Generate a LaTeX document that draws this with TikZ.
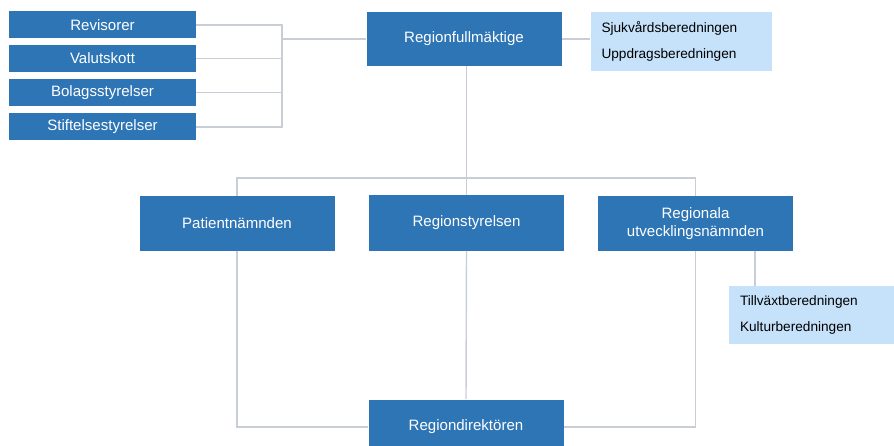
\documentclass[tikz,border=0pt]{standalone}
\usepackage{fontspec}
\setmainfont{Liberation Sans}
\newdimen\pw
\pw=0.025cm
\definecolor{boxblue}{HTML}{2E75B6}
\definecolor{boxlight}{HTML}{C5E2FA}
\definecolor{linegray}{HTML}{C9CED6}
\tikzset{bluebox/.style={fill=boxblue,text=white,inner sep=0pt,align=center,
    font=\fontsize{10.7}{13}\selectfont}}
\tikzset{lightbox/.style={fill=boxlight,text=black,inner xsep=11\pw,inner ysep=0pt,
    align=left,font=\fontsize{9.7}{18.4}\selectfont}}
\tikzset{orgline/.style={draw=linegray,line width=1pt}}

\begin{document}
\begin{tikzpicture}[x=0.025cm,y=-0.025cm]
          \useasboundingbox (0,0) rectangle (894,446);

          % Fullmaktige och beredningar
          \node [bluebox,minimum width=195\pw,minimum height=54\pw] (RF) at (464,39) {Regionfullmäktige};
          \node [lightbox,minimum width=181\pw,minimum height=59\pw,text width=159\pw] (BER1) at (681,41.5)
              {Sjukvårdsberedningen\\Uppdragsberedningen};

          % Revision och styrelser
          \begin{scope}[every node/.style={bluebox,minimum width=187\pw,minimum height=27\pw}]
              \node (RV) at (102.5,25) {Revisorer};
              \node (VK) at (102.5,58.5) {Valutskott};
              \node (BS) at (102.5,92.5) {Bolagsstyrelser};
              \node (SS) at (102.5,127) {Stiftelsestyrelser};
          \end{scope}

          % Namnder
          \begin{scope}[every node/.style={bluebox,minimum width=195\pw,minimum height=55\pw}]
              \node (PN) at (237,223.5) {Patientnämnden};
              \node (RS) at (466.5,223) {Regionstyrelsen};
              \node (RUN) at (695.5,223.5) {Regionala\\utvecklingsnämnden};
              \node (RD) at (466,427) {Regiondirektören};
          \end{scope}
          \node [lightbox,minimum width=171\pw,minimum height=58\pw,text width=149\pw] (BER2) at (814.5,315)
              {Tillväxtberedningen\\Kulturberedningen};

          % Hjalppunkter
          \coordinate (vL) at (282,39);
          \coordinate (bus) at (466.5,178);
          \coordinate (k2) at (755,0);

          % Linjer
          \begin{scope}[every path/.style={orgline}]
              \draw (RV.east) -| (vL);
              \draw (VK.east) -| (vL);
              \draw (BS.east) -| (vL);
              \draw (SS.east) -| (vL);
              \draw (vL) -- (RF.west |- vL);
              \draw (RF.east |- vL) -- (BER1.west |- vL);
              \draw (RF.south -| bus) -- (bus);
              \draw (PN.north) -- (PN.north |- bus) -- (RUN.north |- bus) -- (RUN.north);
              \draw (bus) -- (RS.north);
              \draw (PN.south) |- (RD.west);
              \draw (RUN.south) |- (RD.east);
              \draw (RS.south) -- (RD.north);
              \draw (RUN.south -| k2) -- (BER2.north -| k2);
          \end{scope}
\end{tikzpicture}
\end{document}
